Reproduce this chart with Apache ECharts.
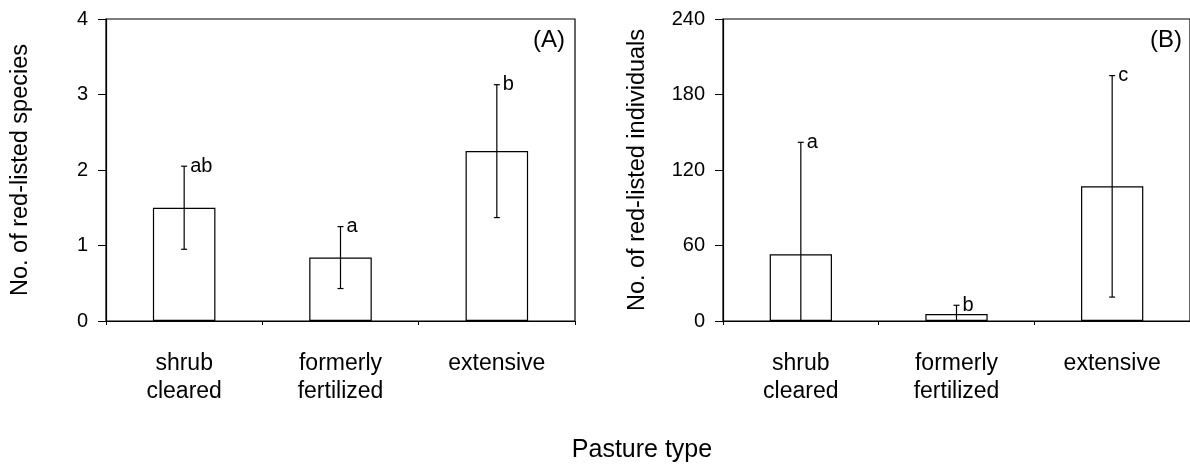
<!DOCTYPE html>
<html>
<head>
<meta charset="utf-8">
<script src="https://cdn.jsdelivr.net/npm/echarts@6/dist/echarts.min.js"></script>
<style>
  html, body { margin: 0; padding: 0; background: #fff; }
  #chart { width: 1190px; height: 468px; }
</style>
</head>
<body>
<div id="chart"></div>
<script>
// Pasture types shared by both panels
const categories = ['shrub\ncleared', 'formerly\nfertilized', 'extensive'];

// Panel A: red-listed species (mean, SD, post-hoc letters)
const speciesMean = [1.5, 0.84, 2.25];
const speciesSD = [0.55, 0.41, 0.88];
const speciesLetters = ['ab', 'a', 'b'];
const speciesAxis = { min: 0, max: 4, interval: 1 };

// Panel B: red-listed individuals (mean, SD, post-hoc letters)
const individualsMean = [53, 5.5, 107];
const individualsSD = [89, 7, 88];
const individualsLetters = ['a', 'b', 'c'];
const individualsAxis = { min: 0, max: 240, interval: 60 };

const FONT = '"Liberation Sans", Arial, sans-serif';
const INK = '#000';

// Vertical SD whisker with caps, clipped at zero, plus the significance letter
function makeErrorRenderer(letters) {
  return function (params, api) {
    const i = api.value(0);
    const mean = api.value(1);
    const sd = api.value(2);
    const low = mean - sd;
    const top = api.coord([i, mean + sd]);
    const bot = api.coord([i, Math.max(0, low)]);
    const cap = 3;
    const children = [
      { type: 'line', shape: { x1: top[0], y1: top[1], x2: bot[0], y2: bot[1] },
        style: { stroke: INK, lineWidth: 1.2 } },
      { type: 'line', shape: { x1: top[0] - cap, y1: top[1], x2: top[0] + cap, y2: top[1] },
        style: { stroke: INK, lineWidth: 1.2 } },
      { type: 'text', x: top[0] + 6, y: top[1],
        style: { text: letters[params.dataIndex], fill: INK, font: '20px ' + FONT,
                 align: 'left', verticalAlign: 'middle' } }
    ];
    if (low >= 0) {
      children.push({ type: 'line', shape: { x1: bot[0] - cap, y1: bot[1], x2: bot[0] + cap, y2: bot[1] },
        style: { stroke: INK, lineWidth: 1.2 } });
    }
    return { type: 'group', children: children };
  };
}

function xAxisFor(gridIndex) {
  return {
    type: 'category', gridIndex: gridIndex, data: categories,
    axisLine: { lineStyle: { color: INK, width: 1.2 } },
    axisTick: { show: true, length: 4, lineStyle: { color: INK } },
    axisLabel: { color: INK, fontFamily: FONT, fontSize: 23, lineHeight: 27.5, margin: 29 }
  };
}

function yAxisFor(gridIndex, range, name) {
  return {
    type: 'value', gridIndex: gridIndex,
    min: range.min, max: range.max, interval: range.interval,
    name: name, nameLocation: 'middle', nameGap: 73,
    nameTextStyle: { color: INK, fontFamily: FONT, fontSize: 23.5 },
    axisLine: { show: true, lineStyle: { color: INK, width: 1.2 } },
    axisTick: { show: true, length: 8, lineStyle: { color: INK } },
    axisLabel: { color: INK, fontFamily: FONT, fontSize: 20, margin: 18 },
    splitLine: { show: false }
  };
}

function barSeries(axisIndex, values) {
  return {
    type: 'bar', xAxisIndex: axisIndex, yAxisIndex: axisIndex,
    data: values, barWidth: '40%', silent: true,
    itemStyle: { color: '#fff', borderColor: INK, borderWidth: 1.2 }
  };
}

function errorSeries(axisIndex, means, sds, letters) {
  return {
    type: 'custom', xAxisIndex: axisIndex, yAxisIndex: axisIndex, silent: true,
    data: means.map(function (m, k) { return [k, m, sds[k]]; }),
    encode: { x: 0, y: 1 },
    renderItem: makeErrorRenderer(letters),
    z: 5
  };
}

const chart = echarts.init(document.getElementById('chart'), null, { renderer: 'canvas' });
chart.setOption({
  animation: false,
  backgroundColor: '#fff',
  grid: [
    { left: 106, top: 19, width: 469, height: 302, show: true, borderColor: INK, borderWidth: 1.2 },
    { left: 723, top: 19, width: 468, height: 302, show: true, borderColor: INK, borderWidth: 1.2 }
  ],
  xAxis: [xAxisFor(0), xAxisFor(1)],
  yAxis: [
    yAxisFor(0, speciesAxis, 'No. of red-listed species'),
    yAxisFor(1, individualsAxis, 'No. of red-listed individuals')
  ],
  series: [
    barSeries(0, speciesMean),
    errorSeries(0, speciesMean, speciesSD, speciesLetters),
    barSeries(1, individualsMean),
    errorSeries(1, individualsMean, individualsSD, individualsLetters)
  ],
  graphic: [
    { type: 'text', right: 1190 - 565, top: 28,
      style: { text: '(A)', fill: INK, font: '24px ' + FONT } },
    { type: 'text', right: 8, top: 28,
      style: { text: '(B)', fill: INK, font: '24px ' + FONT } },
    { type: 'text', x: 642, y: 438,
      style: { text: 'Pasture type', fill: INK, font: '25px ' + FONT,
               align: 'center', verticalAlign: 'top' } }
  ]
});
</script>
</body>
</html>
